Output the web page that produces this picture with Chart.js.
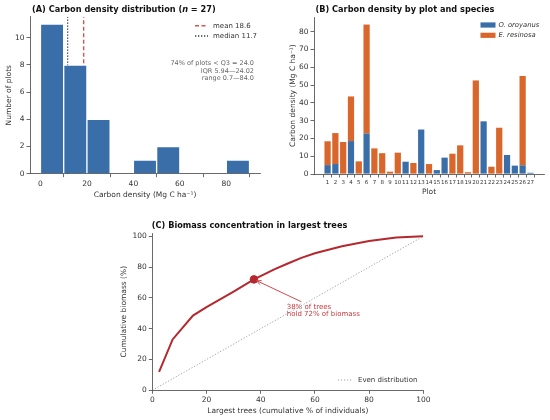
<!DOCTYPE html>
<html><head><meta charset="utf-8">
<script src="https://cdn.jsdelivr.net/npm/chart.js@4/dist/chart.umd.min.js"></script>
<style>
html,body{margin:0;padding:0;background:#fff;width:550px;height:420px;overflow:hidden}
.p{position:absolute}
</style></head><body>
<div class="p" style="left:0;top:0;width:275px;height:210px"><canvas id="cA"></canvas></div>
<div class="p" style="left:275px;top:0;width:275px;height:210px"><canvas id="cB"></canvas></div>
<div class="p" style="left:100px;top:212px;width:350px;height:208px"><canvas id="cC"></canvas></div>
<script>
// ---------------- DATA ----------------
// Panel A: histogram of plot carbon density
const histBinCenters = [5, 15, 25, 35, 45, 55, 65, 75, 85];
const histCounts = [11, 8, 4, 0, 1, 2, 0, 0, 1];
const histXTicks = [0, 20, 40, 60, 80];
const histYTicks = [0, 2, 4, 6, 8, 10];
const meanDensity = 18.6;
const medianDensity = 11.7;
const statsLines = ['74% of plots < Q3 = 24.0', 'IQR 5.94\u201424.02', 'range 0.7\u201484.0'];

// Panel B: carbon density by plot and species (stacked)
const plotIds = [1,2,3,4,5,6,7,8,9,10,11,12,13,14,15,16,17,18,19,20,21,22,23,24,25,26,27];
const oroyanus = [5.0,5.6,0,18.5,0,22.8,0,0,0,0,6.9,0,25.0,0,2.2,9.2,0,0,0,0,29.6,0,0,10.7,4.7,4.9,0.7];
const resinosa = [13.4,17.4,18.0,25.1,7.1,61.2,14.4,11.7,1.3,12.0,0,6.2,0,5.6,0,0,11.4,16.1,1.0,52.6,0,4.1,26.0,0,0,50.2,0];
const plotYTicks = [0,10,20,30,40,50,60,70,80];

// Panel C: cumulative biomass curve
const curveTreesPct = [2.5, 7.5, 15, 20, 25, 30, 37.5, 45, 50, 55, 60, 70, 80, 90, 100];
const curveBiomassPct = [12, 33, 48.5, 54, 59, 64, 72, 78.5, 82.3, 86, 89, 93.5, 97, 99.2, 100];
const evenLine = [0, 100];
const highlightTrees = 37.5;
const highlightBiomass = 72;
const curveTicks = [0, 20, 40, 60, 80, 100];

// ---------------- STYLE ----------------
const FONT = 'DejaVu Sans';
const tickFont = {family: FONT, size: 7.5};
const axisColor = '#444';
const textColor = '#333';
const BLUE = '#3a6ea8', ORANGE = '#d9662b', RED = '#b5282e';

function fixedWidth(w){ return s => { s.width = w; }; }
function fixedHeight(h){ return s => { s.height = h; }; }
function setTicks(arr){ return s => { s.ticks = arr.map(v => ({value: v})); }; }

function axisBase(extra){
  return Object.assign({
    grid: {display: true, drawOnChartArea: false, drawTicks: true, tickLength: 3.5, color: axisColor, lineWidth: 0.8},
    border: {display: true, color: axisColor, width: 0.8},
    ticks: {font: tickFont, color: textColor, padding: 2, maxRotation: 0, autoSkip: false},
    title: {display: true, font: {family: FONT, size: 7.5}, color: textColor, padding: 0}
  }, extra);
}

function drawTitle(ctx, x, y, parts, size){
  ctx.save();
  ctx.textBaseline = 'middle';
  ctx.textAlign = 'left';
  ctx.fillStyle = '#111';
  let cx = x;
  for (const [txt, italic] of parts){
    ctx.font = (italic ? 'italic ' : '') + 'bold ' + size + 'px "' + FONT + '"';
    ctx.fillText(txt, cx, y);
    cx += ctx.measureText(txt).width;
  }
  ctx.restore();
}

Chart.defaults.animation = false;
Chart.defaults.font.family = FONT;

// ---------------- PANEL A ----------------
const chartA = new Chart(document.getElementById('cA'), {
  type: 'bar',
  data: {
    datasets: [
      {
        type: 'bar',
        data: histBinCenters.map((x, i) => ({x: x, y: histCounts[i]})),
        backgroundColor: BLUE,
        borderColor: 'rgba(255,255,255,0.75)',
        borderWidth: 1,
        borderSkipped: 'start',
        barPercentage: 1,
        categoryPercentage: 1
      },
      {
        type: 'line',
        data: [{x: medianDensity, y: 0}, {x: medianDensity, y: 11.55}],
        borderColor: '#2b3a55', borderWidth: 1.3, borderDash: [1.3, 1.7], pointRadius: 0
      },
      {
        type: 'line',
        data: [{x: meanDensity, y: 0}, {x: meanDensity, y: 11.55}],
        borderColor: '#d9534f', borderWidth: 1.4, borderDash: [4, 2.5], pointRadius: 0
      }
    ]
  },
  options: {
    responsive: true, maintainAspectRatio: false,
    layout: {padding: {left: 4.5, right: 15, top: 16.7, bottom: 10.5}},
    plugins: {legend: {display: false}, tooltip: {enabled: false}},
    scales: {
      x: axisBase({type: 'linear', min: -4.5, max: 94.5, offset: false,
        afterBuildTicks: setTicks(histXTicks), afterFit: fixedHeight(25.8),
        title: {display: true, text: 'Carbon density (Mg C ha\u207B\u00B9)', font: {family: FONT, size: 7.5}, color: textColor, padding: 0}}),
      y: axisBase({type: 'linear', min: 0, max: 11.55,
        afterBuildTicks: setTicks(histYTicks), afterFit: fixedWidth(25.5),
        title: {display: true, text: 'Number of plots', font: {family: FONT, size: 7.5}, color: textColor, padding: 0}})
    }
  },
  plugins: [{
    id: 'annA',
    afterDraw(chart){
      const ctx = chart.ctx;
      drawTitle(ctx, chart.chartArea.left + 2, 10, [['(A) Carbon density distribution (', false], ['n', true], [' = 27)', false]], 8.2);
      ctx.save();
      // legend
      ctx.lineWidth = 1.4; ctx.strokeStyle = '#d9534f'; ctx.setLineDash([4, 2.5]);
      ctx.beginPath(); ctx.moveTo(195, 25.7); ctx.lineTo(208, 25.7); ctx.stroke();
      ctx.lineWidth = 1.3; ctx.strokeStyle = '#2b3a55'; ctx.setLineDash([1.3, 1.7]);
      ctx.beginPath(); ctx.moveTo(195, 36); ctx.lineTo(208, 36); ctx.stroke();
      ctx.setLineDash([]);
      ctx.font = '7px "' + FONT + '"'; ctx.fillStyle = textColor; ctx.textBaseline = 'middle'; ctx.textAlign = 'left';
      ctx.fillText('mean ' + meanDensity.toFixed(1), 213, 25.7);
      ctx.fillText('median ' + medianDensity.toFixed(1), 213, 36);
      // stats
      ctx.font = '6.5px "' + FONT + '"'; ctx.fillStyle = '#666'; ctx.textAlign = 'right';
      statsLines.forEach((t, i) => ctx.fillText(t, 254, 63.5 + i * 7.5));
      ctx.restore();
    }
  }]
});

// ---------------- PANEL B ----------------
const chartB = new Chart(document.getElementById('cB'), {
  type: 'bar',
  data: {
    datasets: [
      {label: 'O. oroyanus', data: plotIds.map((p, i) => ({x: p, y: oroyanus[i]})), backgroundColor: BLUE,
       borderWidth: 0, barPercentage: 0.8, categoryPercentage: 1},
      {label: 'E. resinosa', data: plotIds.map((p, i) => ({x: p, y: resinosa[i]})), backgroundColor: ORANGE,
       borderWidth: 0, barPercentage: 0.8, categoryPercentage: 1}
    ]
  },
  options: {
    responsive: true, maintainAspectRatio: false,
    layout: {padding: {left: 13.5, right: 6, top: 17.1, bottom: 13.2}},
    plugins: {legend: {display: false}, tooltip: {enabled: false}},
    scales: {
      x: axisBase({type: 'linear', stacked: true, min: -0.74, max: 28.74, offset: false,
        afterBuildTicks: setTicks(plotIds), afterFit: fixedHeight(22.8),
        ticks: {font: {family: FONT, size: 5.5}, color: textColor, padding: 2, maxRotation: 0, autoSkip: false, callback: v => String(v)},
        title: {display: true, text: 'Plot', font: {family: FONT, size: 7.5}, color: textColor, padding: 0}}),
      y: axisBase({type: 'linear', stacked: true, min: 0, max: 88.2,
        afterBuildTicks: setTicks(plotYTicks), afterFit: fixedWidth(25.5),
        title: {display: true, text: 'Carbon density (Mg C ha\u207B\u00B9)', font: {family: FONT, size: 7.5}, color: textColor, padding: 0}})
    }
  },
  plugins: [{
    id: 'annB',
    afterDraw(chart){
      const ctx = chart.ctx;
      drawTitle(ctx, chart.chartArea.left + 1.5, 10, [['(B) Carbon density by plot and species', false]], 8.2);
      ctx.save();
      const items = [[BLUE, chart.data.datasets[0].label], [ORANGE, chart.data.datasets[1].label]];
      ctx.font = 'italic 6.8px "' + FONT + '"'; ctx.textBaseline = 'middle'; ctx.textAlign = 'left';
      items.forEach(([c, t], i) => {
        const y = 25 + i * 10.3;
        ctx.fillStyle = c; ctx.fillRect(205.5, y - 2.6, 15, 5.2);
        ctx.fillStyle = textColor; ctx.fillText(t, 223.5, y);
      });
      ctx.restore();
    }
  }]
});

// ---------------- PANEL C ----------------
const chartC = new Chart(document.getElementById('cC'), {
  type: 'line',
  data: {
    datasets: [
      {data: evenLine.map(v => ({x: v, y: v})), borderColor: '#a0a0a0', borderWidth: 1, borderDash: [1.2, 1.8], pointRadius: 0},
      {data: curveTreesPct.map((x, i) => ({x: x, y: curveBiomassPct[i]})), borderColor: RED, borderWidth: 2, pointRadius: 0, tension: 0},
      {data: [{x: highlightTrees, y: highlightBiomass}], showLine: false, pointRadius: 3.8, pointBackgroundColor: RED, pointBorderColor: RED}
    ]
  },
  options: {
    responsive: true, maintainAspectRatio: false,
    layout: {padding: {left: 19.5, right: 26.7, top: 21.2, bottom: 4.5}},
    plugins: {legend: {display: false}, tooltip: {enabled: false}},
    scales: {
      x: axisBase({type: 'linear', min: 0, max: 100,
        afterBuildTicks: setTicks(curveTicks), afterFit: fixedHeight(25.2),
        title: {display: true, text: 'Largest trees (cumulative % of individuals)', font: {family: FONT, size: 7.5}, color: textColor, padding: 0}}),
      y: axisBase({type: 'linear', min: 0, max: 102,
        afterBuildTicks: setTicks(curveTicks), afterFit: fixedWidth(32.8),
        title: {display: true, text: 'Cumulative biomass (%)', font: {family: FONT, size: 7.5}, color: textColor, padding: 0}})
    }
  },
  plugins: [{
    id: 'annC',
    afterDraw(chart){
      const ctx = chart.ctx;
      const xs = chart.scales.x, ys = chart.scales.y;
      drawTitle(ctx, chart.chartArea.left - 0.5, 13.7, [['(C) Biomass concentration in largest trees', false]], 8.2);
      ctx.save();
      // annotation arrow
      const px = xs.getPixelForValue(highlightTrees), py = ys.getPixelForValue(highlightBiomass);
      const sx = xs.getPixelForValue(55), sy = ys.getPixelForValue(57.5);
      const ang = Math.atan2(py - sy, px - sx);
      const ex = px - Math.cos(ang) * 3, ey = py - Math.sin(ang) * 3;
      ctx.strokeStyle = '#d0494b'; ctx.lineWidth = 1;
      ctx.beginPath(); ctx.moveTo(sx, sy); ctx.lineTo(ex, ey); ctx.stroke();
      ctx.beginPath();
      ctx.moveTo(ex - Math.cos(ang - 0.45) * 5, ey - Math.sin(ang - 0.45) * 5);
      ctx.lineTo(ex, ey);
      ctx.lineTo(ex - Math.cos(ang + 0.45) * 5, ey - Math.sin(ang + 0.45) * 5);
      ctx.stroke();
      ctx.font = '7px "' + FONT + '"'; ctx.fillStyle = '#c8383c'; ctx.textBaseline = 'middle'; ctx.textAlign = 'left';
      const tx = xs.getPixelForValue(49.6), ty = ys.getPixelForValue(54);
      ctx.fillText(Math.round(highlightTrees) + '% of trees', tx, ty);
      ctx.fillText('hold ' + highlightBiomass + '% of biomass', tx, ty + 7.5);
      // legend
      ctx.strokeStyle = '#a0a0a0'; ctx.lineWidth = 1; ctx.setLineDash([1.2, 1.8]);
      ctx.beginPath(); ctx.moveTo(238, 168); ctx.lineTo(253, 168); ctx.stroke();
      ctx.setLineDash([]);
      ctx.fillStyle = textColor; ctx.font = '7px "' + FONT + '"';
      ctx.fillText('Even distribution', 258, 168);
      ctx.restore();
    }
  }]
});
</script>
</body></html>
